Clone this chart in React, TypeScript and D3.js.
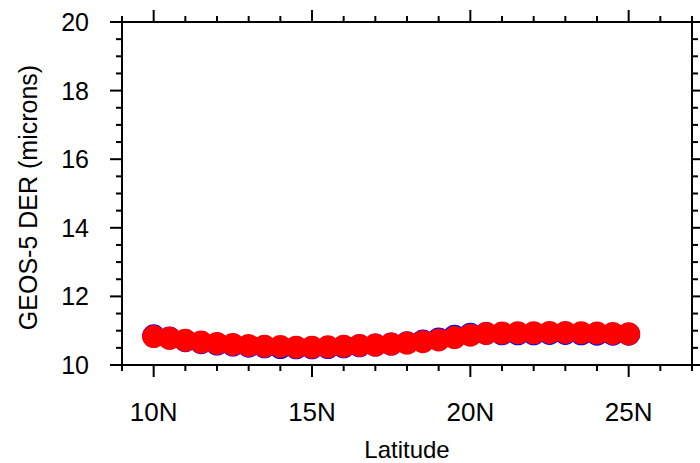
import React, { useEffect, useRef } from "react";
import * as d3 from "d3";

// latitudes of the samples (degrees north)
const latitudes: number[] = [
  10, 10.5, 11, 11.5, 12, 12.5, 13, 13.5, 14, 14.5, 15, 15.5, 16, 16.5, 17,
  17.5, 18, 18.5, 19, 19.5, 20, 20.5, 21, 21.5, 22, 22.5, 23, 23.5, 24, 24.5,
  25,
];

// two overlapping series: blue drawn first, red on top
const blueValues: number[] = [
  10.85, 10.79, 10.71, 10.65, 10.61, 10.58, 10.55, 10.53, 10.51, 10.5, 10.5,
  10.51, 10.53, 10.56, 10.58, 10.61, 10.65, 10.7, 10.76, 10.84, 10.9, 10.92,
  10.91, 10.91, 10.91, 10.92, 10.92, 10.91, 10.9, 10.9, 10.9,
];
const redValues: number[] = [
  10.83, 10.78, 10.72, 10.67, 10.63, 10.6, 10.57, 10.55, 10.54, 10.52, 10.52,
  10.53, 10.55, 10.57, 10.58, 10.61, 10.64, 10.68, 10.73, 10.8, 10.87, 10.92,
  10.93, 10.94, 10.94, 10.95, 10.95, 10.94, 10.93, 10.92, 10.91,
];

const xMajorTicks: number[] = [10, 15, 20, 25];
const yMajorTicks: number[] = [10, 12, 14, 16, 18, 20];

export default function App() {
  const ref = useRef<SVGSVGElement>(null);

  useEffect(() => {
    document.body.style.margin = "0";
    const svg = d3.select(ref.current);
    svg.selectAll("*").remove();

    const left = 122,
      right = 692,
      top = 22,
      bottom = 365;
    const font = "'Liberation Sans', Arial, Helvetica, sans-serif";

    const x = d3.scaleLinear().domain([9, 27]).range([left, right]);
    const y = d3.scaleLinear().domain([10, 20]).range([bottom, top]);

    const xMinor = d3.range(9, 27.01, 1).filter((d) => !xMajorTicks.includes(d));
    const yMinor = d3.range(10, 20.01, 0.5).filter((d) => !yMajorTicks.includes(d));

    const ticks = svg.append("g").attr("stroke", "#000").attr("stroke-width", 2);

    // bottom and top ticks (outward)
    [
      { list: xMajorTicks, len: 12 },
      { list: xMinor, len: 6 },
    ].forEach(({ list, len }) => {
      list.forEach((d) => {
        ticks.append("line").attr("x1", x(d)).attr("x2", x(d)).attr("y1", bottom).attr("y2", bottom + len);
        ticks.append("line").attr("x1", x(d)).attr("x2", x(d)).attr("y1", top).attr("y2", top - len);
      });
    });
    // left and right ticks (outward)
    [
      { list: yMajorTicks, len: 12 },
      { list: yMinor, len: 6 },
    ].forEach(({ list, len }) => {
      list.forEach((d) => {
        ticks.append("line").attr("x1", left).attr("x2", left - len).attr("y1", y(d)).attr("y2", y(d));
        ticks.append("line").attr("x1", right).attr("x2", right + len).attr("y1", y(d)).attr("y2", y(d));
      });
    });

    // frame
    svg
      .append("rect")
      .attr("x", left)
      .attr("y", top)
      .attr("width", right - left)
      .attr("height", bottom - top)
      .attr("fill", "none")
      .attr("stroke", "#000")
      .attr("stroke-width", 2);

    // markers
    const r = 11.5;
    svg
      .append("g")
      .selectAll("circle")
      .data(latitudes)
      .enter()
      .append("circle")
      .attr("cx", (d) => x(d))
      .attr("cy", (d, i) => y(blueValues[i]))
      .attr("r", r)
      .attr("fill", "blue");
    svg
      .append("g")
      .selectAll("circle")
      .data(latitudes)
      .enter()
      .append("circle")
      .attr("cx", (d) => x(d))
      .attr("cy", (d, i) => y(redValues[i]))
      .attr("r", r)
      .attr("fill", "red");

    // tick labels
    svg
      .append("g")
      .selectAll("text")
      .data(xMajorTicks)
      .enter()
      .append("text")
      .attr("x", (d) => x(d))
      .attr("y", 421)
      .attr("text-anchor", "middle")
      .style("font-family", font)
      .style("font-size", "26px")
      .text((d) => d + "N");
    svg
      .append("g")
      .selectAll("text")
      .data(yMajorTicks)
      .enter()
      .append("text")
      .attr("x", 89)
      .attr("y", (d) => y(d) + 9)
      .attr("text-anchor", "end")
      .style("font-family", font)
      .style("font-size", "25px")
      .text((d) => d);

    // axis titles
    svg
      .append("text")
      .attr("x", (left + right) / 2)
      .attr("y", 458)
      .attr("text-anchor", "middle")
      .style("font-family", font)
      .style("font-size", "24px")
      .text("Latitude");
    svg
      .append("text")
      .attr("transform", "translate(37," + ((top + bottom) / 2 + 4) + ") rotate(-90)")
      .attr("text-anchor", "middle")
      .style("font-family", font)
      .style("font-size", "25px")
      .text("GEOS-5 DER (microns)");
  }, []);

  return <svg ref={ref} width={700} height={463} style={{ display: "block", background: "#fff" }} />;
}
